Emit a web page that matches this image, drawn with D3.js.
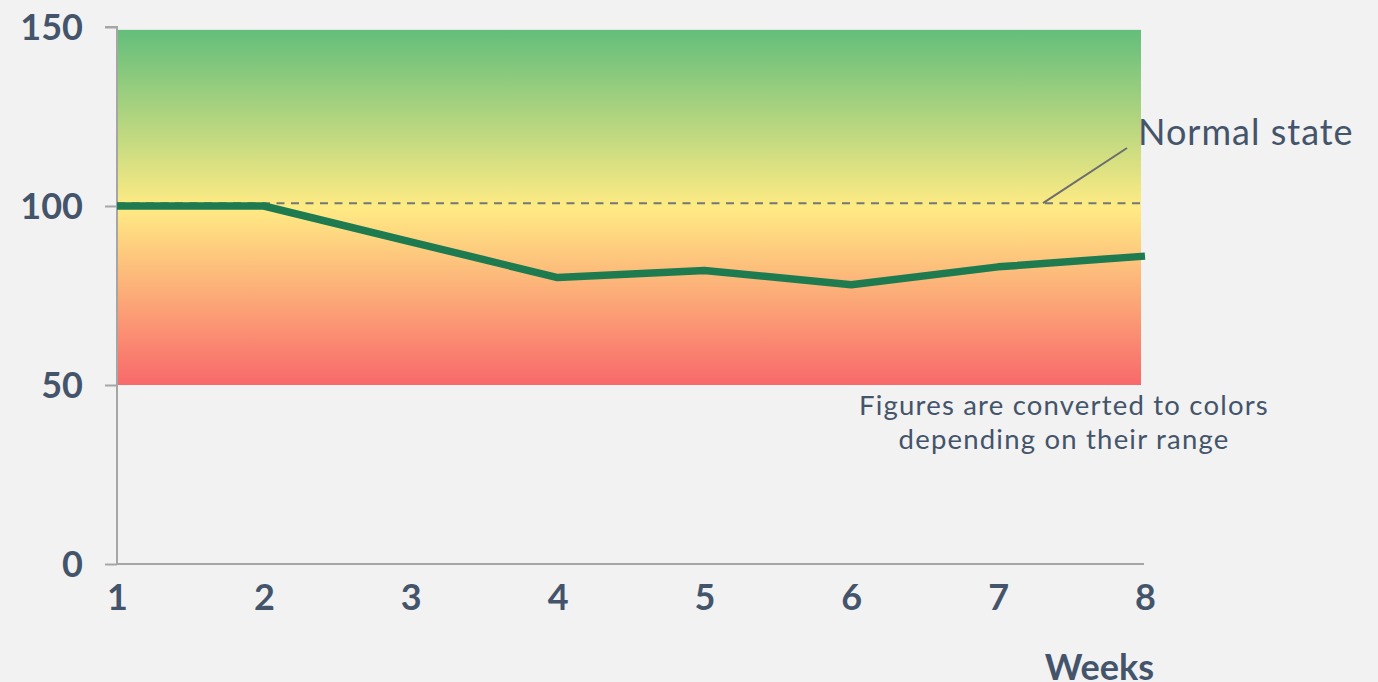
<!DOCTYPE html>
<html><head><meta charset="utf-8">
<script src="https://cdn.jsdelivr.net/npm/d3@7"></script>
<style>html,body{margin:0;padding:0;background:#f2f2f2;}svg{display:block;}</style>
</head><body>
<svg id="chart" width="1378" height="682"></svg>
<script>
const weeks = [1, 2, 3, 4, 5, 6, 7, 8];
const values = [100, 100, 90, 80, 82, 78, 83, 86];
const yTicks = [0, 50, 100, 150];
const bandRange = [50, 149.2];
const normalValue = 100.8;
const gradientStops = [
  {offset: "0%", color: "#63be7b"},
  {offset: "50%", color: "#ffeb84"},
  {offset: "100%", color: "#f8696b"}
];
const labels = {normal: "Normal state", note: ["Figures are converted to colors", "depending on their range"], xTitle: "Weeks"};

const svg = d3.select("#chart");
const textColor = "#44546a";
const font = "Lato, 'Open Sans', sans-serif";

const x = d3.scaleLinear().domain([1, 8]).range([117, 1145]);
const y = d3.scaleLinear().domain([0, 150]).range([564, 27]);

const defs = svg.append("defs");
const grad = defs.append("linearGradient").attr("id", "band").attr("x1", 0).attr("y1", 0).attr("x2", 0).attr("y2", 1);
grad.selectAll("stop").data(gradientStops).join("stop").attr("offset", d => d.offset).attr("stop-color", d => d.color);

svg.append("rect")
  .attr("x", x(1)).attr("width", 1141 - x(1))
  .attr("y", y(bandRange[1])).attr("height", y(bandRange[0]) - y(bandRange[1]))
  .attr("fill", "url(#band)");

// axes
const yAxis = svg.append("g").attr("transform", `translate(${x(1)},0)`)
  .call(d3.axisLeft(y).tickValues(yTicks).tickSize(12).tickPadding(22));
yAxis.select(".domain").attr("stroke", "#a6a6a6").attr("stroke-width", 2).attr("d", `M-12,${y(150)}H0V${y(0)}`);
yAxis.selectAll(".tick line").attr("stroke", "#a6a6a6").attr("stroke-width", 2);
yAxis.selectAll(".tick text").attr("fill", textColor).attr("font-family", font).attr("font-weight", "bold").attr("font-size", 36).attr("dy", "0.36em");

const xAxis = svg.append("g").attr("transform", `translate(0,${y(0)})`)
  .call(d3.axisBottom(x).tickValues(weeks).tickFormat(d3.format("d")).tickSize(0).tickPadding(20));
xAxis.select(".domain").attr("stroke", "#a6a6a6").attr("stroke-width", 2).attr("d", `M${x(1)},0H1144`);
xAxis.selectAll(".tick text").attr("fill", textColor).attr("font-family", font).attr("font-weight", "bold").attr("font-size", 36).attr("dy", "0.71em");

// normal line
svg.append("line")
  .attr("x1", x(1)).attr("x2", 1143).attr("y1", y(normalValue)).attr("y2", y(normalValue))
  .attr("stroke", "#767676").attr("stroke-width", 2).attr("stroke-dasharray", "8,6.5");

// data line
svg.append("path").datum(weeks.map((w, i) => [w, values[i]]))
  .attr("fill", "none").attr("stroke", "#1e7b4f").attr("stroke-width", 7.5).attr("stroke-linejoin", "round")
  .attr("d", d3.line().x(d => x(d[0])).y(d => y(d[1])));

// leader + annotation
svg.append("line").attr("x1", 1043).attr("y1", y(normalValue)).attr("x2", 1127).attr("y2", 148)
  .attr("stroke", "#6d6d6d").attr("stroke-width", 2);
svg.append("text").attr("x", 1138).attr("y", 145).text(labels.normal)
  .attr("fill", textColor).attr("font-family", font).attr("font-size", 36).attr("letter-spacing", 1);

svg.append("text").attr("x", 1064).attr("y", 415).attr("text-anchor", "middle")
  .attr("fill", textColor).attr("font-family", font).attr("font-size", 27.5).attr("letter-spacing", 1.2)
  .selectAll("tspan").data(labels.note).join("tspan")
  .attr("x", 1064).attr("dy", (d, i) => i ? 34 : 0).text(d => d);

svg.append("text").attr("x", 1154).attr("y", 680).attr("text-anchor", "end")
  .attr("fill", textColor).attr("font-family", font).attr("font-weight", "bold").attr("font-size", 36).text(labels.xTitle);
</script>
</body></html>
